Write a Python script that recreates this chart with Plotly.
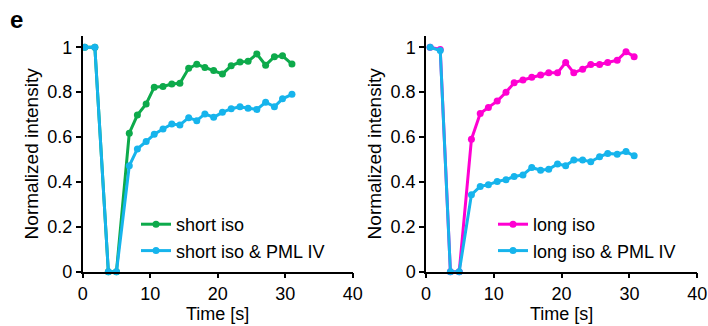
import plotly.graph_objects as go

# ---- data ----
t_left = [0.3, 1.8, 3.8, 5.0, 6.9, 8.1, 9.4, 10.6, 11.9, 13.2, 14.4, 15.7, 16.9,
          18.1, 19.4, 20.7, 22.0, 23.3, 24.5, 25.8, 27.1, 28.4, 29.6, 31.0]
short_iso = [1.0, 1.0, 0, 0, 0.617, 0.698, 0.747, 0.822, 0.825, 0.836, 0.839, 0.906,
             0.924, 0.91, 0.896, 0.881, 0.917, 0.934, 0.937, 0.970, 0.92, 0.958, 0.962, 0.925]
short_iso_pml = [1.0, 1.0, 0, 0, 0.472, 0.547, 0.58, 0.612, 0.636, 0.658, 0.654, 0.686,
                 0.673, 0.703, 0.688, 0.71, 0.726, 0.735, 0.728, 0.723, 0.755, 0.735, 0.77, 0.79]

t_right = [0.6, 2.1, 3.6, 4.9, 6.7, 8.0, 9.2, 10.5, 11.8, 13.0, 14.3, 15.6, 16.9,
           18.1, 19.4, 20.6, 21.8, 23.1, 24.3, 25.6, 26.8, 28.2, 29.5, 30.7]
long_iso = [1.0, 0.99, 0, 0, 0.59, 0.705, 0.732, 0.76, 0.799, 0.842, 0.854, 0.866,
            0.876, 0.886, 0.886, 0.932, 0.886, 0.902, 0.923, 0.923, 0.932, 0.942, 0.98, 0.958]
long_iso_pml = [1.0, 0.985, 0, 0, 0.343, 0.38, 0.387, 0.402, 0.41, 0.424, 0.431, 0.464,
                0.452, 0.456, 0.48, 0.472, 0.498, 0.498, 0.49, 0.512, 0.527, 0.523, 0.535, 0.516]

x_ticks = [0, 10, 20, 30, 40]
y_ticks = [0, 0.2, 0.4, 0.6, 0.8, 1]
y_tick_labels = ["0", "0.2", "0.4", "0.6", "0.8", "1"]

GREEN = "#0DAA4B"
BLUE = "#16B4EC"
MAGENTA = "#FF00D2"
FONT = "Liberation Sans, Arial, sans-serif"
FS = 18

fig = go.Figure()

def add(x, y, name, color, xa, ya, legend):
    fig.add_trace(go.Scatter(
        x=x, y=y, name=name, mode="lines+markers",
        line=dict(color=color, width=3),
        marker=dict(color=color, size=7),
        xaxis=xa, yaxis=ya, legend=legend,
        cliponaxis=False,
    ))

add(t_left, short_iso, "short iso", GREEN, "x", "y", "legend")
add(t_left, short_iso_pml, "short iso & PML IV", BLUE, "x", "y", "legend")
add(t_right, long_iso, "long iso", MAGENTA, "x2", "y2", "legend2")
add(t_right, long_iso_pml, "long iso & PML IV", BLUE, "x2", "y2", "legend2")

W, H = 708, 326
ydom = [(H - 271.7) / H, (H - 36.0) / H]

xaxis_common = dict(
    range=[0, 40], tickvals=x_ticks, showline=True, linecolor="black", linewidth=1.5,
    ticks="outside", ticklen=5, tickwidth=1.5, tickcolor="black", showgrid=False,
    zeroline=False, tickfont=dict(size=FS, color="black", family=FONT),
    title=dict(text="Time [s]", font=dict(size=FS, color="black", family=FONT), standoff=2),
)
yaxis_common = dict(
    range=[0, 1.05], tickvals=y_ticks, ticktext=y_tick_labels, showline=True,
    linecolor="black", linewidth=1.5, ticks="outside", ticklen=5, tickwidth=1.5,
    tickcolor="black", showgrid=False, zeroline=False,
    tickfont=dict(size=FS, color="black", family=FONT),
    title=dict(text="Normalized intensity", font=dict(size=FS + 1, color="black", family=FONT), standoff=4),
)

legend_common = dict(
    font=dict(size=FS, color="black", family=FONT), bgcolor="rgba(0,0,0,0)",
    xanchor="left", yanchor="top", itemclick=False, traceorder="normal",
)

fig.update_layout(
    width=W, height=H, margin=dict(l=0, r=0, t=0, b=0, autoexpand=False),
    paper_bgcolor="white", plot_bgcolor="white",
    font=dict(family=FONT, color="black"),
    xaxis=dict(domain=[82.7 / W, 352.7 / W], anchor="y", **xaxis_common),
    yaxis=dict(domain=ydom, anchor="x", **yaxis_common),
    xaxis2=dict(domain=[426.0 / W, 697.2 / W], anchor="y2", **xaxis_common),
    yaxis2=dict(domain=ydom, anchor="x2", **yaxis_common),
    legend=dict(x=136 / W, y=(H - 206) / H, **legend_common),
    legend2=dict(x=493 / W, y=(H - 206) / H, **legend_common),
    showlegend=True,
    annotations=[dict(text="<b>e</b>", x=8 / W, y=(H - 4) / H, xref="paper", yref="paper",
                      xanchor="left", yanchor="top", showarrow=False,
                      font=dict(size=24, color="black", family=FONT))],
)

fig.write_html("out.html")
